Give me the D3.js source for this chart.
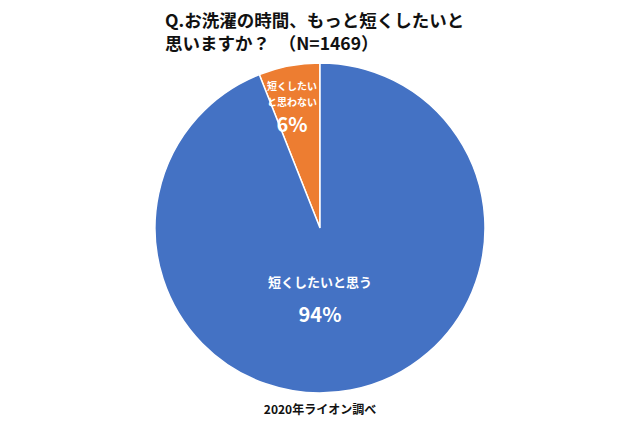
<!DOCTYPE html>
<html><head><meta charset="utf-8">
<script src="https://cdn.jsdelivr.net/npm/d3@7"></script>
<style>body{margin:0;background:#fff}text{font-family:"Noto Sans CJK JP",sans-serif}</style>
</head><body>
<svg id="c" width="640" height="427"></svg>
<script>
const categories = ["短くしたいと思わない", "短くしたいと思う"];
const values = [6, 94];
const colors = ["#ED7D31", "#4472C4"];
const titleLines = ["Q.お洗濯の時間、もっと短くしたいと", "思いますか？　（N=1469）"];
const source = "2020年ライオン調べ";

const svg = d3.select("#c");
const cx = 320, cy = 228, r = 165;
const pie = d3.pie().sort(null).value(d => d)
  .startAngle(-2*Math.PI*values[0]/100).endAngle(2*Math.PI - 2*Math.PI*values[0]/100);
const arcs = pie(values);
const arc = d3.arc().innerRadius(0).outerRadius(r);
const g = svg.append("g").attr("transform", `translate(${cx},${cy})`);
g.selectAll("path").data(arcs).enter().append("path")
  .attr("d", arc).attr("fill", (d,i) => colors[i]).attr("stroke", "#fff").attr("stroke-width", 1.5);

svg.selectAll(".t").data(titleLines).enter().append("text")
  .attr("x", 165).attr("y", (d,i) => 27 + i*23).attr("font-size", 17.5).attr("font-weight", "bold")
  .attr("fill", "#111").text(d => d);

const sl = [["短くしたい", 90], ["と思わない", 106]];
svg.selectAll(".sl").data(sl).enter().append("text")
  .attr("x", 292).attr("y", d => d[1]).attr("text-anchor", "middle")
  .attr("font-size", 10).attr("font-weight", "bold").attr("fill", "#fff").text(d => d[0]);
svg.append("text").attr("x", 292).attr("y", 132).attr("text-anchor", "middle")
  .attr("font-size", 20).attr("font-weight", "bold").attr("fill", "#fff").text(values[0] + "%");

svg.append("text").attr("x", 320).attr("y", 287).attr("text-anchor", "middle")
  .attr("font-size", 13).attr("font-weight", "bold").attr("fill", "#fff").text(categories[1]);
svg.append("text").attr("x", 320).attr("y", 322).attr("text-anchor", "middle")
  .attr("font-size", 20).attr("font-weight", "bold").attr("fill", "#fff").text(values[1] + "%");

svg.append("text").attr("x", 320).attr("y", 414).attr("text-anchor", "middle")
  .attr("font-size", 12).attr("font-weight", "bold").attr("fill", "#111").text(source);
</script>
</body></html>
